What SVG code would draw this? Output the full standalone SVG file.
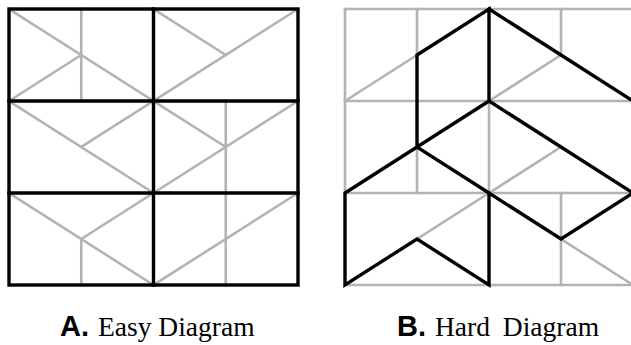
<svg xmlns="http://www.w3.org/2000/svg" width="631" height="345" viewBox="0 0 631 345">
<style>
.g{stroke:#b3b3b3;stroke-width:2.6;fill:none;stroke-linecap:square}
.k{stroke:#000;stroke-width:3.4;fill:none;stroke-linejoin:miter;stroke-linecap:square}
.lab{font-family:"Liberation Sans",Arial,sans-serif;font-weight:bold;font-size:29px;fill:#000}
.cap{font-family:"Liberation Serif","Times New Roman",serif;font-size:27.5px;fill:#000}
</style>
<rect width="631" height="345" fill="#fff"/>
<g id="diagram-a">
<g id="a-grey" class="g">
<path d="M9,9 L153.5,101 M9,101 L81.25,55 M81.25,9 L81.25,101"/>
<path d="M153.5,9 L225.75,55 M298,9 L153.5,101"/>
<path d="M9,101 L153.5,193 M153.5,101 L81.25,147"/>
<path d="M153.5,101 L225.75,147 M298,101 L153.5,193 M225.75,101 L225.75,285"/>
<path d="M9,193 L153.5,285 M153.5,193 L81.25,239 M81.25,239 L81.25,285"/>
<path d="M298,193 L153.5,285"/>
</g>
<g id="a-frame" class="k">
<rect x="9" y="9" width="289" height="276"/>
<path d="M153.5,9 L153.5,285 M9,101 L298,101 M9,193 L298,193"/>
</g>
</g>
<g id="diagram-b">
<g id="b-grey" class="g">
<path d="M345,9 L633,9 M345,101 L633,101 M345,193 L633,193 M345,285 L633,285"/>
<path d="M345,9 L345,193 M417,9 L417,55 M417,147 L417,193 M489,101 L489,193 M561,9 L561,55 M561,193 L561,285 M633,9 L633,285"/>
<path d="M345,101 L417,55 M489,101 L561,55 M489,193 L561,147 M489,193 L417,239 M561,239 L633,285"/>
</g>
<g id="b-figure" class="k">
<path d="M417,147 L417,55 L489,9 L489,101 L417,147 L345,193 L345,285 L417,239 L489,285 L489,193 L417,147"/>
<path d="M489,9 L633,101"/>
<path d="M489,101 L633,193 L561,239 L489,193"/>
</g>
</g>
<g id="labels">
<text x="60" y="336" class="lab">A.</text>
<text x="98" y="336" class="cap">Easy Diagram</text>
<text x="397" y="336" class="lab">B.</text>
<text x="435" y="336" class="cap">Hard <tspan dx="6">Diagram</tspan></text>
</g>
</svg>
